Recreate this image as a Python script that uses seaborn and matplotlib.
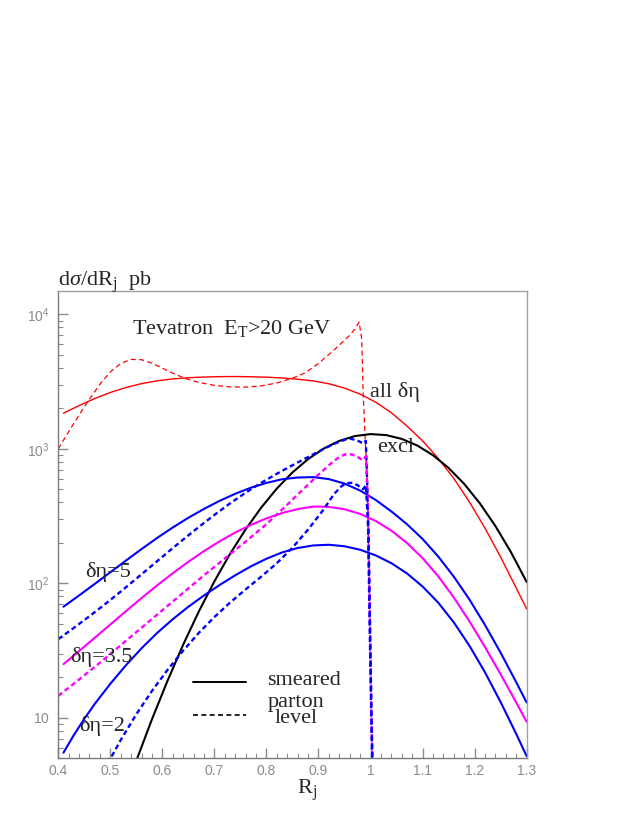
import matplotlib
matplotlib.use("Agg")
import numpy as np
import matplotlib.pyplot as plt
import matplotlib.ticker as mticker
from matplotlib.lines import Line2D
from matplotlib.legend_handler import HandlerLine2D
import seaborn as sns

# ---- data (R_j, dsigma/dR_j in pb) ----
# all delta-eta, smeared
all_s_x = [0.41, 0.44, 0.47, 0.50, 0.53, 0.56, 0.59, 0.62, 0.65, 0.68, 0.71, 0.74, 0.77, 0.80,
           0.83, 0.86, 0.89, 0.92, 0.95, 0.98, 1.01, 1.04, 1.07, 1.10, 1.13, 1.16, 1.19,
           1.22, 1.25, 1.28, 1.30]
all_s_y = [1841, 2099, 2366, 2624, 2858, 3055, 3206, 3311, 3381, 3420, 3443, 3451, 3436, 3412,
           3365, 3296, 3199, 3048, 2831, 2553, 2223, 1858, 1479, 1148, 851, 603, 403,
           257, 157, 92.3, 64.6]
# all delta-eta, parton level
all_p_x = [0.40, 0.42, 0.44, 0.46, 0.48, 0.50, 0.52, 0.54, 0.56, 0.58, 0.60, 0.62, 0.645, 0.67,
           0.70, 0.73, 0.76, 0.79, 0.82, 0.85, 0.875, 0.90, 0.93, 0.96, 0.97, 0.978, 0.983,
           0.986, 0.990, 0.993, 0.997, 1.000, 1.003]
all_p_y = [1000, 1343, 1786, 2344, 3020, 3733, 4315, 4624, 4603, 4335, 3981, 3656, 3327, 3119,
           2965, 2891, 2877, 2938, 3090, 3350, 3681, 4315, 5433, 6982, 7762, 8770, 6607,
           2512, 1122, 708, 158, 31.6, 3.16]
# excl, smeared
excl_s_x = [0.545, 0.58, 0.61, 0.64, 0.67, 0.70, 0.73, 0.76, 0.79, 0.82, 0.85, 0.88, 0.91, 0.94,
            0.97, 1.00, 1.03, 1.06, 1.09, 1.12, 1.15, 1.18, 1.21, 1.24, 1.27, 1.30]
excl_s_y = [4.27, 9.75, 18.9, 35.0, 61.7, 103.5, 165.6, 252, 366, 507, 668, 839, 1005, 1146,
            1245, 1288, 1266, 1186, 1058, 896.8, 721.1, 548.9, 393.9, 266.7, 170.2, 102.4]
# delta-eta = 5
d5_s_x = [0.41, 0.44, 0.47, 0.50, 0.53, 0.56, 0.59, 0.62, 0.65, 0.68, 0.71, 0.74, 0.77, 0.80,
          0.83, 0.86, 0.89, 0.92, 0.95, 0.98, 1.01, 1.04, 1.07, 1.10, 1.13, 1.16, 1.19,
          1.22, 1.25, 1.28, 1.30]
d5_s_y = [67.0, 81.3, 99.0, 120.9, 147.7, 179.9, 217.6, 260.3, 307.4, 357.7, 410.7, 463.4, 514.0, 558.5,
          594.3, 612.4, 616.6, 595.7, 552.1, 489.8, 416.9, 342.8, 275.4, 213.8, 158.5, 112.2, 75.9,
          49.0, 30.5, 18.4, 13.0]
d5_p_x = [0.40, 0.43, 0.46, 0.49, 0.52, 0.55, 0.58, 0.61, 0.64, 0.67, 0.70, 0.73, 0.76, 0.79,
          0.82, 0.85, 0.88, 0.91, 0.93, 0.95, 0.962, 0.975, 0.986, 0.991, 0.994, 0.997,
          1.000, 1.004]
d5_p_y = [38.5, 46.7, 57.0, 70.1, 86.9, 108.4, 135.6, 169.8, 211.8, 262.4, 322.8, 393.1, 472.1, 559.3,
          653.1, 755.1, 870.0, 999, 1090, 1168, 1189, 1153, 1096, 1148, 501, 100,
          20, 3.16]
# delta-eta = 3.5
d35_s_x = [0.41, 0.44, 0.47, 0.50, 0.53, 0.56, 0.59, 0.62, 0.65, 0.68, 0.71, 0.74, 0.77, 0.80,
           0.83, 0.86, 0.89, 0.92, 0.95, 0.98, 1.01, 1.04, 1.07, 1.10, 1.13, 1.16, 1.19,
           1.22, 1.25, 1.28, 1.30]
d35_s_y = [25.06, 31.37, 39.35, 49.41, 62.08, 77.72, 96.6, 118.8, 144.7, 173.8, 205.4, 238.6, 272.0, 304.2,
           333.3, 356.7, 372.4, 370.7, 355.6, 328.6, 291.1, 246.6, 199.7, 154.2, 113.0, 78.6, 52.3,
           33.6, 21.1, 13.0, 9.35]
d35_p_x = [0.40, 0.44, 0.48, 0.52, 0.56, 0.60, 0.64, 0.68, 0.72, 0.76, 0.80, 0.84, 0.87, 0.90,
           0.925, 0.94, 0.952, 0.965, 0.975, 0.985, 0.991, 0.995, 0.998, 1.001, 1.005]
d35_p_y = [14.55, 19.28, 25.7, 34.7, 46.8, 63.1, 85.1, 114.8, 153.1, 204.2, 275.4, 384.6, 497.7, 642.7,
           785.2, 871, 912, 908, 871, 822, 881, 398, 79, 15.8, 2]
# delta-eta = 2
d2_s_x = [0.41, 0.43, 0.45, 0.47, 0.50, 0.53, 0.56, 0.59, 0.62, 0.65, 0.68, 0.71, 0.74, 0.77,
          0.80, 0.83, 0.86, 0.89, 0.92, 0.95, 0.98, 1.01, 1.04, 1.07, 1.10, 1.13, 1.16,
          1.19, 1.22, 1.25, 1.28, 1.30]
d2_s_y = [5.51, 7.46, 9.84, 12.68, 17.91, 24.6, 32.9, 42.8, 54.1, 67.0, 81.3, 97.2, 114.8, 133.7,
          152.4, 169.8, 183.2, 191.4, 193.6, 188.8, 177.8, 161.4, 141.3, 118.6, 94.8, 71.9, 51.3,
          34.4, 21.8, 13.1, 7.59, 5.19]
d2_p_x = [0.495, 0.52, 0.55, 0.58, 0.61, 0.64, 0.67, 0.70, 0.73, 0.76, 0.79, 0.82, 0.85, 0.88,
          0.91, 0.93, 0.945, 0.955, 0.965, 0.975, 0.986, 0.991, 0.996, 0.999, 1.002, 1.006]
d2_p_y = [4.57, 6.84, 10.64, 15.85, 22.75, 31.6, 42.8, 56.2, 71.9, 90.2, 112.2, 141.3, 184.1, 251.2,
          354.8, 462.4, 530.9, 555.9, 559.8, 537, 501, 537, 251, 50, 10, 2]

x_ticks = [0.4, 0.5, 0.6, 0.7, 0.8, 0.9, 1.0, 1.1, 1.2, 1.3]
y_ticks = [10, 100, 1000, 10000]
y_tick_labels = [r"$\mathsf{10}$", r"$\mathsf{10^{2}}$", r"$\mathsf{10^{3}}$", r"$\mathsf{10^{4}}$"]

sns.set_theme(style="white")
plt.rcParams["font.family"] = ["Liberation Serif", "DejaVu Serif"]
plt.rcParams["mathtext.fontset"] = "custom"
plt.rcParams["mathtext.rm"] = "Liberation Serif"
plt.rcParams["mathtext.it"] = "Liberation Serif:italic"
plt.rcParams["mathtext.sf"] = "Liberation Sans"

fig = plt.figure(figsize=(6.32, 8.17), dpi=100)
ax = fig.add_axes([0.0922, 0.0718, 0.7411, 0.5724])
ax.set_yscale("log")

solid_lw = 1.5
dot_style = (0, (2.1, 1.4))
curves = [
    (all_s_x, all_s_y, "#ff0000", 1.0, "-"),
    (all_p_x, all_p_y, "#ff0000", 0.9, (0, (4.0, 2.7))),
    (excl_s_x, excl_s_y, "black", solid_lw, "-"),
    (d5_s_x, d5_s_y, "#0000ff", solid_lw, "-"),
    (d5_p_x, d5_p_y, "#0000ff", 1.7, dot_style),
    (d35_s_x, d35_s_y, "#ff00ff", solid_lw, "-"),
    (d35_p_x, d35_p_y, "#ff00ff", 1.7, dot_style),
    (d2_s_x, d2_s_y, "#0000ff", solid_lw, "-"),
    (d2_p_x, d2_p_y, "#0000ff", 1.7, dot_style),
]
for xs, ys, col, lw, ls in curves:
    sns.lineplot(x=xs, y=ys, ax=ax, color=col, linewidth=lw, linestyle=ls,
                 estimator=None, sort=False)

ax.set_xlim(0.4, 1.3)
ax.set_ylim(5, 15000)

# axis styling (gray frame, inward ticks, no ticks on top/right)
tick_gray = "#8c8c8c"
for side, sp in ax.spines.items():
    sp.set_color("#7a7a7a" if side in ("left", "bottom") else "#a0a0a0")
    sp.set_linewidth(1.0)
ax.xaxis.set_major_locator(mticker.FixedLocator(x_ticks))
ax.xaxis.set_minor_locator(mticker.MultipleLocator(0.02))
ax.xaxis.set_major_formatter(mticker.FuncFormatter(lambda v, p: "%g" % round(v, 2)))
ax.yaxis.set_major_locator(mticker.FixedLocator(y_ticks))
ax.yaxis.set_major_formatter(mticker.FixedFormatter(y_tick_labels))
ax.yaxis.set_minor_locator(mticker.LogLocator(base=10, subs=range(2, 10)))
ax.yaxis.set_minor_formatter(mticker.NullFormatter())
ax.tick_params(axis="both", which="both", direction="in", colors=tick_gray,
               top=False, right=False, bottom=True, left=True)
ax.tick_params(axis="both", which="major", length=7, width=1.0, labelsize=10)
ax.tick_params(axis="both", which="minor", length=3.6, width=0.8)
ax.tick_params(axis="x", which="major", pad=4)
ax.tick_params(axis="y", which="major", pad=6)
for lab in ax.get_xticklabels():
    lab.set_family("Liberation Sans")

# texts
fs = 16
fig.text(58.5 / 632, 1 - 286 / 817, r"d$\sigma$/dR$_\mathrm{j}$  pb", fontsize=fs,
         ha="left", va="baseline")
ax.text(0.542, 7100, r"Tevatron  E$_\mathrm{T}$>20 GeV", fontsize=fs, ha="left", va="baseline")
ax.text(0.999, 2420, "all δη", fontsize=fs, ha="left", va="baseline")
ax.text(1.012, 944, "excl", fontsize=fs, ha="left", va="baseline")
ax.text(0.451, 111, "δη=5", fontsize=fs, ha="left", va="baseline")
ax.text(0.4225, 26.2, "δη=3.5", fontsize=fs, ha="left", va="baseline")
ax.text(0.440, 8.05, "δη=2", fontsize=fs, ha="left", va="baseline")

ax.set_xlabel(r"R$_\mathrm{j}$", fontsize=fs)
ax.xaxis.set_label_coords(0.532, -0.042)
ax.xaxis.label.set_va("top")
ax.set_ylabel("")


class ShiftedLine(HandlerLine2D):
    # legend line drawn a few points below the centre of its label
    def __init__(self, dy, **kw):
        super().__init__(**kw)
        self.dy = dy

    def create_artists(self, legend, orig_handle, xdescent, ydescent, width, height, fontsize, trans):
        arts = super().create_artists(legend, orig_handle, xdescent, ydescent, width, height,
                                      fontsize, trans)
        for a in arts:
            a.set_ydata(np.asarray(a.get_ydata()) + self.dy)
        return arts


h_smeared = Line2D([], [], color="black", lw=1.4, ls="-")
h_parton = Line2D([], [], color="black", lw=1.2, ls=(0, (3.0, 2.0)))
leg = ax.legend([h_smeared, h_parton], ["smeared", "parton\nlevel"], loc="upper left",
                bbox_to_anchor=(0.288, 0.19), frameon=False, fontsize=fs,
                handlelength=2.4, handletextpad=0.95, borderpad=0, borderaxespad=0,
                labelspacing=0.15,
                handler_map={h_smeared: ShiftedLine(-3.2), h_parton: ShiftedLine(-4.0)})
for t in leg.get_texts():
    t.set_linespacing(0.75)
    t.set_multialignment("center")

fig.savefig("out.png", dpi=100, facecolor="white")
